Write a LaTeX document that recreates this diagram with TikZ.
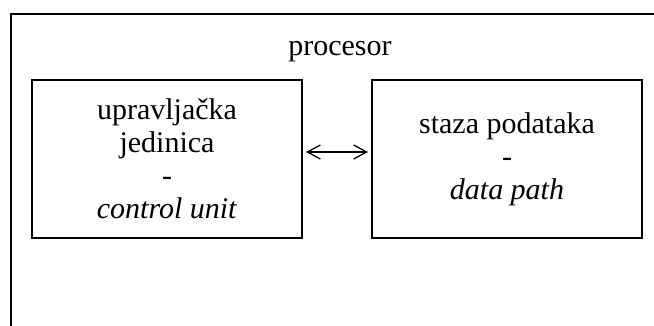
\documentclass[tikz,border=0pt]{standalone}
\usepackage{fontspec}
\setmainfont{Liberation Serif}
\usetikzlibrary{arrows.meta}
\begin{document}
\begin{tikzpicture}[x=1pt,y=-1pt,
  frame/.style={draw=black, line width=2pt},
  unitbox/.style={frame, minimum width=270pt, minimum height=158pt,
    align=center, inner sep=0pt, font=\fontsize{30}{33}\selectfont},
  link/.style={line width=1.3pt, {Straight Barb[length=13pt,width=14pt]}-{Straight Barb[length=13pt,width=14pt]}}]
  \useasboundingbox (0,0) rectangle (654,325);
  \clip (0,0) rectangle (654,325);
  % processor outline, running past the right and bottom edges
  \node[frame, minimum width=680pt, minimum height=360pt, inner sep=0pt, anchor=north west]
    (cpu) at (9.5,12.5) {};
  \node[font=\fontsize{30}{33}\selectfont, anchor=base] (cpulabel) at (340,55) {procesor};
  % the two parts of the processor
  \node[unitbox] (cu) at (167,159) {upravljačka\\jedinica\\-\\\textit{control unit}};
  \node[unitbox] (dp) at (507,159) {staza podataka\\-\\\textit{data path}};
  % two-way link between them
  \draw[link, shorten <=3pt, shorten >=3pt] ([yshift=7pt]cu.east) -- ([yshift=7pt]dp.west);
\end{tikzpicture}
\end{document}
